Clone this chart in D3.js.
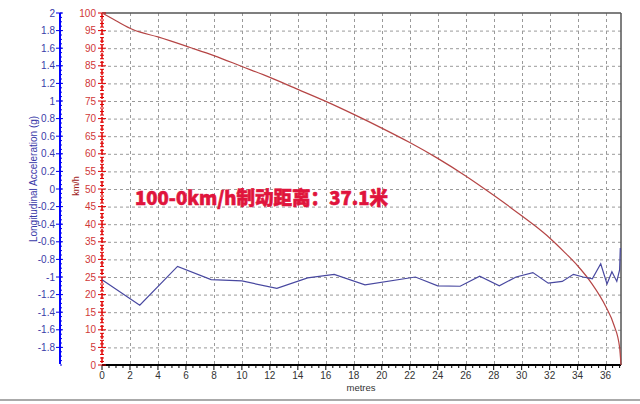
<!DOCTYPE html>
<html><head><meta charset="utf-8">
<script src="https://cdn.jsdelivr.net/npm/d3@7"></script>
<style>body{margin:0;background:#fff}svg{display:block}</style>
</head><body>
<svg id="c" width="640" height="404"></svg>
<script>
// distance (m) vs speed (km/h)
const speedDist = [0,1,2.2,4,6.3,8,10,12,14,16,18,20,22,24,26,28,30,31,32,33,34,35,36,36.6,37.0,37.1];
const speedVals = [100,97.8,95.3,93.2,90.2,87.9,84.8,81.7,78.3,74.9,71.2,67.3,63.2,58.7,53.7,48.2,42.4,39.4,36.1,32.3,28.2,23.2,16.7,11.3,5.0,0];
// distance (m) vs longitudinal acceleration (g)
const accDist = [0,2.7,5.4,7.8,10.0,12.5,14.7,16.6,18.8,22.4,24.0,25.6,27.0,28.4,29.6,30.8,31.9,32.9,33.7,34.4,35.05,35.65,36.1,36.45,36.8,37.0,37.05];
const accVals = [-1.03,-1.32,-0.88,-1.03,-1.045,-1.13,-1.01,-0.97,-1.09,-1.0,-1.10,-1.105,-0.99,-1.10,-1.0,-0.95,-1.07,-1.05,-0.97,-1.0,-1.02,-0.85,-1.08,-0.94,-1.05,-0.92,-0.67];
const xTicks = d3.range(0, 37, 2);
const speedTicks = d3.range(0, 101, 5);
const accTicks = [2,1.8,1.6,1.4,1.2,1,0.8,0.6,0.4,0.2,0,-0.2,-0.4,-0.6,-0.8,-1,-1.2,-1.4,-1.6,-1.8];
const titleText = "100-0km/h制动距离：37.1米";

const svg = d3.select("#c");
const L = 102, R = 621, T = 13, B = 365;
const x = d3.scaleLinear().domain([0, 37.1]).range([L, R]);
const yS = d3.scaleLinear().domain([0, 100]).range([B, T]);
const yA = d3.scaleLinear().domain([-2, 2]).range([B, T]);
const font = "Arial, 'Liberation Sans', sans-serif";

// grid
const g = svg.append("g");
g.selectAll(".hg").data(speedTicks.filter(v => v > 0 && v < 100)).join("line")
  .attr("x1", L).attr("x2", R).attr("y1", d => yS(d) + 0.5).attr("y2", d => yS(d) + 0.5)
  .attr("stroke", "#9a9a9a").attr("stroke-dasharray", "3,3");
g.selectAll(".vg").data(xTicks.filter(v => v > 0)).join("line")
  .attr("y1", T).attr("y2", B).attr("x1", d => Math.round(x(d)) + 0.5).attr("x2", d => Math.round(x(d)) + 0.5)
  .attr("stroke", "#9a9a9a").attr("stroke-dasharray", "3,3");

// frame top/right
svg.append("line").attr("x1", L).attr("x2", R).attr("y1", T).attr("y2", T).attr("stroke", "#555").attr("stroke-width", 1.5);
svg.append("line").attr("x1", R).attr("x2", R).attr("y1", T).attr("y2", B).attr("stroke", "#555").attr("stroke-width", 1.5);

// x axis
const xa = svg.append("g");
xa.selectAll(".mn").data(d3.range(0, 37.01, 0.5)).join("line")
  .attr("x1", d => x(d)).attr("x2", d => x(d)).attr("y1", B).attr("y2", d => B + (d % 2 === 0 ? 5 : 3))
  .attr("stroke", "#000");
xa.append("line").attr("x1", L).attr("x2", R).attr("y1", B).attr("y2", B).attr("stroke", "#000").attr("stroke-width", 2);
xa.selectAll("text").data(xTicks).join("text")
  .attr("x", d => x(d)).attr("y", 379).attr("text-anchor", "middle")
  .attr("font-family", font).attr("font-size", 10).attr("fill", "#333").text(d => d);
svg.append("text").attr("x", 361).attr("y", 391).attr("text-anchor", "middle")
  .attr("font-family", font).attr("font-size", 9.5).attr("fill", "#333").text("metres");

// speed axis (red)
const sa = svg.append("g");
sa.selectAll(".mn").data(d3.range(0, 101, 1)).join("line")
  .attr("x1", d => L - (d % 5 === 0 ? 4 : 2)).attr("x2", d => L + (d % 5 === 0 ? 4 : 2))
  .attr("y1", d => yS(d)).attr("y2", d => yS(d)).attr("stroke", "#e00000");
sa.append("line").attr("x1", L).attr("x2", L).attr("y1", T).attr("y2", B).attr("stroke", "#e00000").attr("stroke-width", 1.5).attr("stroke-dasharray", "6,2");
sa.selectAll("text").data(speedTicks).join("text")
  .attr("x", 96).attr("y", d => yS(d) + 3.5).attr("text-anchor", "end")
  .attr("font-family", font).attr("font-size", 10).attr("fill", "#d03838").text(d => d);
svg.append("text").attr("transform", "translate(79,186) rotate(-90)").attr("text-anchor", "middle")
  .attr("font-family", font).attr("font-size", 9).attr("fill", "#a02020").text("km/h");

// acceleration axis (blue)
const AX = 60;
const aa = svg.append("g");
aa.selectAll(".mn").data(d3.range(-2, 2.001, 0.05)).join("line")
  .attr("x1", AX).attr("x2", AX + 2)
  .attr("y1", d => yA(d)).attr("y2", d => yA(d)).attr("stroke", "#0000e0");
aa.selectAll(".mj").data(accTicks).join("line")
  .attr("x1", AX - 4).attr("x2", AX + 3)
  .attr("y1", d => yA(d)).attr("y2", d => yA(d)).attr("stroke", "#0000e0");
aa.append("line").attr("x1", AX).attr("x2", AX).attr("y1", T).attr("y2", B - 1).attr("stroke", "#0000ff").attr("stroke-width", 2);
aa.selectAll("text").data(accTicks).join("text")
  .attr("x", 55).attr("y", d => yA(d) + 3.5).attr("text-anchor", "end")
  .attr("font-family", font).attr("font-size", 10).attr("fill", "#3a3aa8").text(d => d);
svg.append("text").attr("transform", "translate(37,179) rotate(-90)").attr("text-anchor", "middle")
  .attr("font-family", font).attr("font-size", 10).attr("fill", "#3a3aa8").text("Longitudinal Acceleration (g)");

// series
const speedData = speedDist.map((d, i) => [d, speedVals[i]]);
const accData = accDist.map((d, i) => [d, accVals[i]]);
svg.append("path").datum(speedData)
  .attr("d", d3.line().x(d => x(d[0])).y(d => yS(d[1])).curve(d3.curveMonotoneX))
  .attr("fill", "none").attr("stroke", "#b54545").attr("stroke-width", 1.2);
svg.append("path").datum(accData)
  .attr("d", d3.line().x(d => x(d[0])).y(d => yA(d[1])))
  .attr("fill", "none").attr("stroke", "#4848a0").attr("stroke-width", 1.2);

// title annotation
svg.append("text").attr("x", 135).attr("y", 205)
  .attr("font-family", "'Noto Sans CJK SC', sans-serif").attr("font-weight", "900").attr("font-size", 19)
  .attr("fill", "#e0143c").attr("stroke", "#e0143c").attr("stroke-width", 0.6)
  .attr("textLength", 253).attr("lengthAdjust", "spacingAndGlyphs")
  .text(titleText);

// bottom frame line
svg.append("line").attr("x1", 0).attr("x2", 640).attr("y1", 400).attr("y2", 400).attr("stroke", "#aaa").attr("stroke-width", 2);
</script>
</body></html>
